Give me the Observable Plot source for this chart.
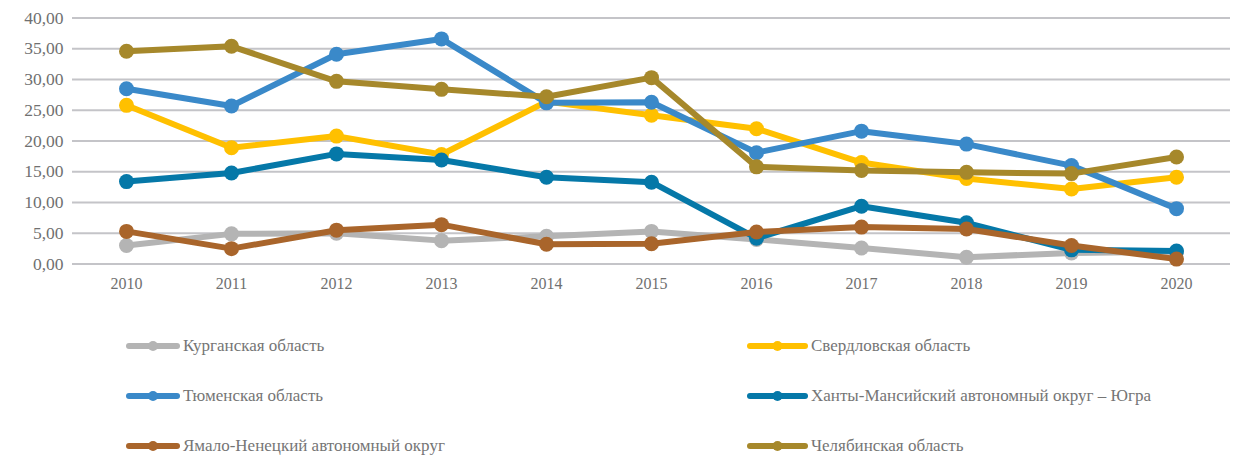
<!DOCTYPE html>
<html>
<head>
<meta charset="utf-8">
<script src="https://cdn.jsdelivr.net/npm/d3@7"></script>
<script src="https://cdn.jsdelivr.net/npm/@observablehq/plot@0.6"></script>
<style>
  body { margin: 0; background: #fff; }
  #wrap { position: relative; width: 1233px; height: 456px; }
  svg text { font-family: "Liberation Serif", "Times New Roman", "DejaVu Serif", serif !important; }
  .leg { position: absolute; display: flex; align-items: center; font-family: "Liberation Serif", "Times New Roman", "DejaVu Serif", serif; font-size: 17px; color: #757575; white-space: nowrap; }
  .leg svg { margin-right: 3px; }
</style>
</head>
<body>
<div id="wrap"></div>
<script>
const years = [2010, 2011, 2012, 2013, 2014, 2015, 2016, 2017, 2018, 2019, 2020];
const seriesNames = [
  "Курганская область",
  "Свердловская область",
  "Тюменская область",
  "Ханты-Мансийский автономный округ – Югра",
  "Ямало-Ненецкий автономный округ",
  "Челябинская область"
];
const kurgan      = [3.0, 4.9, 5.0, 3.8, 4.5, 5.3, 4.0, 2.6, 1.1, 1.8, 2.0];
const sverdlovsk  = [25.8, 18.9, 20.8, 17.8, 26.4, 24.2, 22.0, 16.5, 13.9, 12.2, 14.1];
const tyumen      = [28.5, 25.7, 34.1, 36.6, 26.2, 26.3, 18.1, 21.6, 19.5, 16.0, 9.0];
const khmao       = [13.4, 14.8, 17.9, 16.9, 14.1, 13.3, 4.2, 9.4, 6.7, 2.3, 2.1];
const yanao       = [5.3, 2.5, 5.5, 6.4, 3.2, 3.3, 5.2, 6.0, 5.7, 3.0, 0.8];
const chelyabinsk = [34.6, 35.4, 29.7, 28.4, 27.2, 30.3, 15.8, 15.2, 14.9, 14.7, 17.4];
const colors = ["#B4B4B4", "#FFC000", "#3A89C9", "#0578A8", "#A9652B", "#A6882B"];
const yTicks = [0, 5, 10, 15, 20, 25, 30, 35, 40];

const allValues = [kurgan, sverdlovsk, tyumen, khmao, yanao, chelyabinsk];
const series = seriesNames.map((name, i) => years.map((y, j) => ({year: y, value: allValues[i][j], name})));

const fmt = d => d.toFixed(2).replace(".", ",");

const marks = [
  Plot.ruleY(yTicks, {stroke: "#C4C4C8", strokeWidth: 2})
];
series.forEach((data, i) => {
  marks.push(Plot.line(data, {x: "year", y: "value", stroke: colors[i], strokeWidth: 6, strokeLinejoin: "round", strokeLinecap: "round"}));
  marks.push(Plot.dot(data, {x: "year", y: "value", fill: colors[i], r: 7.5, stroke: "none"}));
});

const chart = Plot.plot({
  width: 1233,
  height: 300,
  marginTop: 17.5,
  marginBottom: 36.5,
  marginLeft: 72,
  marginRight: 3,
  style: {fontFamily: "'Liberation Serif', 'Times New Roman', serif", background: "#fff"},
  x: {type: "point", domain: years, padding: 0.5, align: 0.5, label: null, tickSize: 0, tickPadding: 14, tickFormat: d => String(d)},
  y: {domain: [0, 40], ticks: yTicks, label: null, tickSize: 0, tickPadding: 9, tickFormat: fmt},
  marks: [
    ...marks,
    Plot.axisX({tickSize: 0, tickPadding: 14, fontSize: 16, fill: "#707070", tickFormat: d => String(d)}),
    Plot.axisY({ticks: yTicks, tickSize: 0, tickPadding: 9, fontSize: 17.5, fill: "#707070", tickFormat: fmt})
  ]
});
chart.style.position = "absolute";
chart.style.left = "0px";
chart.style.top = "0px";
const wrap = document.getElementById("wrap");
wrap.appendChild(chart);

const legPos = [
  {x: 126, y: 346}, {x: 747, y: 346},
  {x: 126, y: 396}, {x: 747, y: 396},
  {x: 126, y: 446}, {x: 747, y: 446}
];
seriesNames.forEach((name, i) => {
  const d = document.createElement("div");
  d.className = "leg";
  d.style.left = legPos[i].x + "px";
  d.style.top = (legPos[i].y - 11) + "px";
  d.style.height = "22px";
  const w = i % 2 === 0 ? 54 : 61;
  d.innerHTML = `<svg width="${w}" height="10"><line x1="3" y1="5" x2="${w - 3}" y2="5" stroke="${colors[i]}" stroke-width="6" stroke-linecap="round"/><circle cx="${w / 2}" cy="5" r="5" fill="${colors[i]}"/></svg><span>${name}</span>`;
  wrap.appendChild(d);
});
</script>
</body>
</html>
